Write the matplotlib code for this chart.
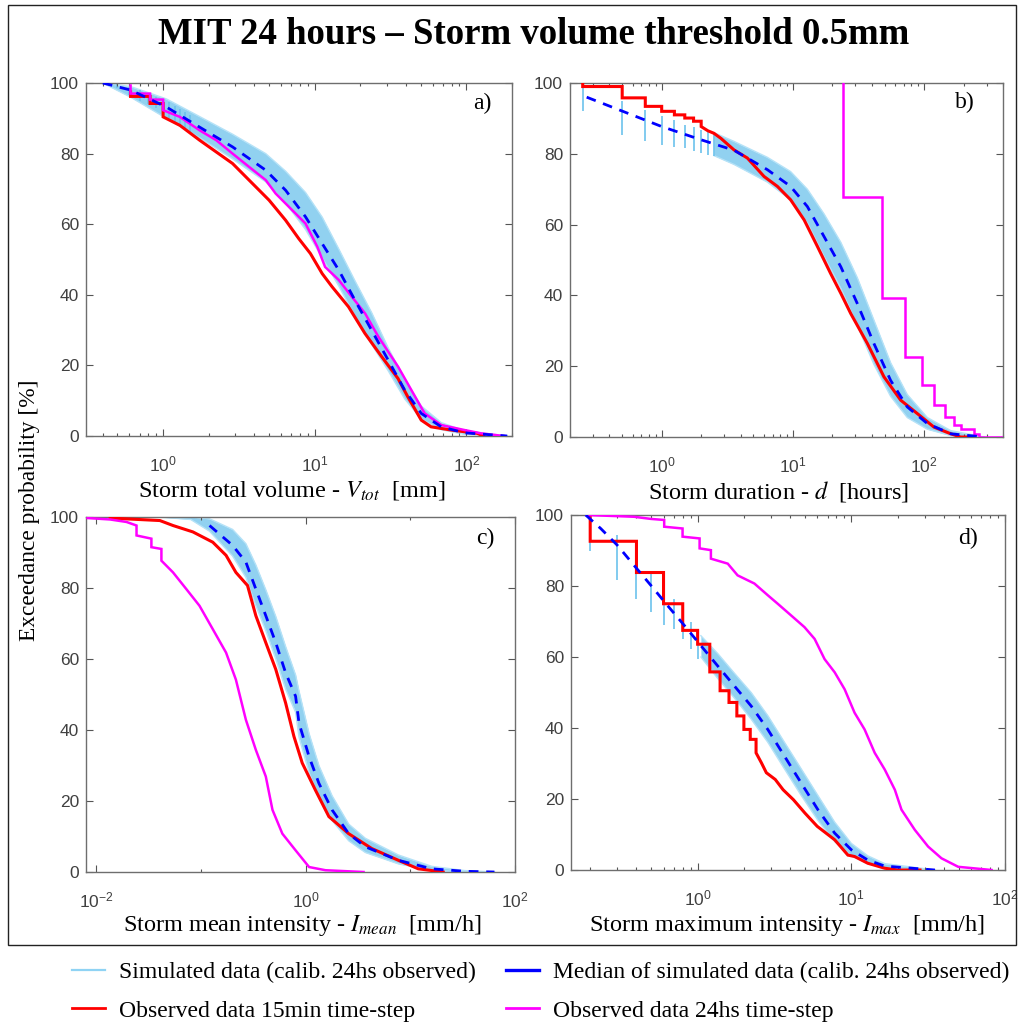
import numpy as np
import matplotlib
matplotlib.use('Agg')
import matplotlib.pyplot as plt
from matplotlib.lines import Line2D
from matplotlib.patches import Rectangle
from matplotlib.ticker import FixedLocator, FuncFormatter, NullFormatter

plt.rcParams['font.family'] = ['Liberation Sans', 'DejaVu Sans']
plt.rcParams['mathtext.fontset'] = 'stix'
SERIF = ['Liberation Serif', 'DejaVu Serif']

# ---------------- data: panel a (storm total volume, mm) ----------------
a_red_x = [0.61, 0.61, 0.82, 0.82, 1.0, 1.0, 1.29, 1.74, 2.87, 3.89, 5.0, 6.43, 7.85, 9.36, 11.2, 13.0,
           16.7, 21.4, 27.6, 35.4, 41.1, 50.4, 58.5, 79, 118, 130]
a_red_y = [97.5, 96.2, 96.2, 94.2, 94.2, 90.4, 88, 83.8, 77.2, 71.5, 66.8, 61.1, 55.9, 51.7, 46, 42.3,
           36.6, 29.1, 22.5, 16.3, 11.1, 4.5, 2.6, 1.7, 0.75, 0]
a_mag_x = [0.61, 0.61, 0.82, 0.82, 1.0, 1.0, 1.29, 1.74, 2.24, 2.87, 3.70, 4.75, 5.52, 6.76, 8.69, 10.4,
           11.7, 14.4, 17.6, 21.5, 26.3, 35.5, 43.4, 53.1, 68.3, 97, 125, 177]
a_mag_y = [99.3, 97, 97, 95.3, 95.3, 92.3, 90.4, 86.6, 83.8, 80, 76.2, 72.5, 68.7, 64.9, 60.2, 53.6,
           47.9, 44.2, 39.4, 34.7, 28.1, 19.6, 13, 6.4, 3.1, 1.7, 0.75, 0]
a_med_x = [0.40, 0.61, 1.05, 1.74, 2.87, 4.75, 6.43, 8.69, 11.2, 14.4, 18.4, 23.7, 30.5, 39.2, 50.4, 68.3, 97, 186]
a_med_y = [100, 98, 93.2, 87.5, 81.9, 75.3, 69.6, 62.1, 54.5, 47, 38.5, 30, 21.5, 13, 6.4, 2.6, 0.9, 0]
a_band_x = [0.40, 0.61, 1.05, 1.74, 2.87, 4.75, 6.43, 8.69, 11.2, 14.4, 18.4, 23.7, 30.5, 39.2, 50.4, 68.3, 97, 186]
a_band_hi = [100, 99, 95.5, 90.5, 85.5, 80, 75, 69, 62, 53, 44, 35, 25, 16, 8.5, 3.8, 1.5, 0]
a_band_lo = [100, 96, 90, 84.5, 78.5, 72, 66, 58.5, 50.5, 42.5, 34, 26, 18.5, 10.5, 4.8, 1.8, 0.5, 0]
a_spk_x = [0.5, 0.6, 0.7, 0.8, 0.9, 1.0, 1.1, 1.2, 1.3, 1.4, 1.5]
a_spk_hi = [99.8, 99, 98, 97, 96, 95.5, 94.5, 93.5, 92.5, 91.7, 91]
a_spk_lo = [98.5, 96.5, 95, 94, 93, 91, 90, 89, 88, 87, 86]

# ---------------- data: panel b (storm duration, hours) ----------------
b_red_x = [0.25, 0.25, 0.5, 0.5, 0.75, 0.75, 1.0, 1.0, 1.25, 1.25, 1.5, 1.5, 1.75, 1.75, 2.0, 2.0,
           2.25, 2.5, 2.82, 3.56, 4.5, 6.03, 7.62, 9.62, 12.2, 15.4, 19.4, 23.2, 27.6, 37.0, 49.5,
           66.4, 89, 119, 160, 190, 240]
b_red_y = [100, 99, 99, 95.8, 95.8, 93.4, 93.4, 92, 92, 91, 91, 90.1, 90.1, 89.2, 89.2, 87.7,
           86.5, 85.8, 84.4, 81.1, 78.8, 73.6, 70.8, 67, 61.3, 53.8, 46.2, 40.6, 34.9, 26.4, 17,
           10.4, 6.6, 2.8, 0.9, 0, 0]
b_mag_x = [24, 24, 48, 48, 72, 72, 96, 96, 120, 120, 144, 144, 168, 168, 192, 192, 240, 240, 264, 264, 390]
b_mag_y = [100, 67.9, 67.9, 39.2, 39.2, 22.6, 22.6, 14.6, 14.6, 9.0, 9.0, 5.7, 5.7, 3.3, 3.3, 2.4,
           2.4, 0.9, 0.9, 0.1, 0.1]
b_med_x = [0.268, 1.0, 1.98, 3.56, 6.4, 9.6, 12.9, 17.3, 23.2, 31, 41.5, 55.6, 74.5, 106, 160, 287]
b_med_y = [96, 87.7, 84, 81, 75.5, 70.8, 65.1, 56.6, 48.1, 37.7, 26.4, 16, 8.5, 3.8, 0.9, 0]
b_band_x = [2.5, 3.56, 6.4, 9.6, 12.9, 17.3, 23.2, 31, 41.5, 55.6, 74.5, 106, 160, 287]
b_band_hi = [86, 83.5, 79, 75, 70, 63, 55, 45, 33, 21, 12, 5.5, 1.8, 0]
b_band_lo = [79.5, 77, 72, 67, 60.5, 51, 42, 31.5, 20.5, 11.5, 5.5, 2.2, 0.4, 0]
b_spk_x = [0.25, 0.5, 0.75, 1.0, 1.25, 1.5, 1.75, 2.0, 2.25, 2.5]
b_spk_hi = [99, 95, 92.5, 90.6, 89.6, 88.2, 87.7, 86.8, 86.2, 85.8]
b_spk_lo = [92, 85.4, 83.5, 82.5, 82, 81.5, 80.8, 80.3, 79.8, 79.5]

# ---------------- data: panel c (storm mean intensity, mm/h) ----------------
c_red_x = [0.0136, 0.0406, 0.0542, 0.0839, 0.130, 0.174, 0.216, 0.279, 0.335, 0.417, 0.519, 0.645,
           0.774, 0.929, 1.24, 1.67, 2.58, 4.29, 7.69, 11.9, 20.6]
c_red_y = [99.7, 99, 97.6, 95.8, 92.9, 89.2, 84.4, 80.7, 72.2, 64.6, 57.1, 47.6,
           38.2, 30.7, 23.1, 15.6, 10.8, 6.6, 3.3, 0.9, 0]
c_mag_x = [0.00828, 0.0136, 0.0195, 0.0243, 0.0243, 0.0337, 0.0337, 0.0420, 0.0420, 0.0542, 0.0726,
           0.0970, 0.130, 0.174, 0.216, 0.269, 0.335, 0.417, 0.483, 0.600, 0.803, 1.08, 1.55, 3.58]
c_mag_y = [99.7, 99.3, 98.6, 97.6, 94.8, 93.9, 91.5, 91, 87.7, 84.4, 79.7,
           75, 68.4, 61.8, 54.2, 42.9, 34.4, 26.9, 17.5, 10.8, 6.1, 1.4, 0.5, 0]
c_med_x = [0.121, 0.201, 0.269, 0.335, 0.417, 0.519, 0.645, 0.803, 0.865, 1.08, 1.34, 1.79, 2.58,
           3.72, 7.69, 16.0, 33.0, 63.6]
c_med_y = [97.6, 92, 87.3, 79.7, 72.2, 64.6, 56.1, 49.5, 42, 32.5, 25, 17.5, 10.8, 7.1, 3.3, 0.9, 0.2, 0]
c_band_x = [0.04, 0.08, 0.121, 0.201, 0.269, 0.335, 0.417, 0.519, 0.645, 0.803, 0.865, 1.08, 1.34,
            1.79, 2.58, 3.72, 7.69, 16.0, 33.0, 63.6]
c_band_hi = [100, 100, 99.5, 96.5, 92.5, 86.5, 79.5, 72, 63.5, 55.5, 51, 39, 30, 21.5, 13.5, 9.5, 4.8, 1.6, 0.4, 0]
c_band_lo = [100, 99.3, 96, 89, 83, 75, 68, 60, 51.5, 45, 38, 28, 21, 14.5, 8.8, 5.5, 2.3, 0.5, 0, 0]

# ---------------- data: panel d (storm maximum intensity, mm/h) ----------------
d_red_x = [0.2, 0.2, 0.4, 0.4, 0.6, 0.6, 0.8, 0.8, 1.0, 1.0, 1.2, 1.2, 1.4, 1.4, 1.6, 1.6, 1.8, 1.8,
           2.0, 2.0, 2.2, 2.2, 2.4, 2.4, 2.6, 2.8, 3.2, 3.6, 4.2, 5.0, 6.0, 7.8, 9.5, 10.5, 12.8,
           16.5, 20, 28]
d_red_y = [100, 92.6, 92.6, 83.8, 83.8, 75, 75, 67.5, 67.5, 63.6, 63.6, 55.8, 55.8, 50.5, 50.5, 47.2,
           47.2, 43.4, 43.4, 39.6, 39.6, 36.8, 36.8, 33, 30.2, 27.4, 25.5, 22.6, 19.8, 16, 12.3, 8.5,
           4.2, 3.8, 1.9, 0.5, 0, 0]
d_mag_x = [0.19, 0.386, 0.496, 0.606, 0.606, 0.798, 0.798, 1.03, 1.03, 1.22, 1.22, 1.57, 1.82, 2.34,
           2.86, 3.32, 4.06, 4.96, 5.77, 6.70, 7.79, 9.05, 10.5, 12.2, 14.2, 16.5, 19.2, 21.2, 25.9,
           31.6, 38.6, 49.6, 81.8]
d_mag_y = [100, 99.5, 98.9, 98.6, 96.7, 96.2, 93.9, 93.4, 90.6, 90.1, 87.7, 86.3, 83, 80.7,
           77.4, 75, 71.7, 68.4, 65.1, 59.4, 55.7, 50.9, 44.3, 39.6, 33, 28.3, 22.6, 17, 11.3,
           6.6, 3.3, 0.9, 0]
d_med_x = [0.187, 0.234, 0.30, 0.386, 0.496, 0.637, 0.819, 1.05, 1.35, 1.73, 2.23, 2.86, 3.67, 4.72,
           6.06, 7.79, 10.0, 12.8, 16.5, 35]
d_med_y = [100, 96.2, 91.5, 85.8, 80.2, 74.5, 68.9, 63.2, 57.5, 51.9, 46.2, 39.6, 32.1, 24.5,
           17, 10.4, 5.7, 2.8, 1.1, 0]
d_band_x = [1.05, 1.35, 1.73, 2.23, 2.86, 3.67, 4.72, 6.06, 7.79, 10.0, 12.8, 16.5, 35]
d_band_hi = [66, 61, 55.5, 50, 43.5, 36, 28.5, 21, 13.5, 7.5, 4, 1.8, 0]
d_band_lo = [60, 54, 48.5, 42.5, 36, 28.5, 21, 14, 8, 4, 1.8, 0.5, 0]
d_spk_x = [0.2, 0.3, 0.4, 0.5, 0.6, 0.7, 0.8, 0.9, 1.0]
d_spk_hi = [92.5, 94.3, 85.8, 84, 79.2, 76.4, 71.7, 69.8, 67]
d_spk_lo = [90, 81.6, 76.4, 72.6, 68.9, 67.9, 65.1, 62.3, 59.4]

y_ticks = [0, 20, 40, 60, 80, 100]
title = 'MIT 24 hours \u2013 Storm volume threshold 0.5mm'
xlabels = ['Storm total volume - $V_{tot}$  [mm]', 'Storm duration - $d$  [hours]',
           'Storm mean intensity - $I_{mean}$  [mm/h]', 'Storm maximum intensity - $I_{max}$  [mm/h]']
panel_tags = ['a)', 'b)', 'c)', 'd)']
legend_labels = ['Simulated data (calib. 24hs observed)', 'Observed data 15min time-step',
                 'Median of simulated data (calib. 24hs observed)', 'Observed data 24hs time-step']

SIM_C = '#6cc2ec'
SIM_EDGE = '#b5e2f7'
MED_C = '#0000ff'
RED_C = '#ff0000'
MAG_C = '#ff00ff'

W, H = 1021, 1030
fig = plt.figure(figsize=(W / 100, H / 100), dpi=100)


def px_axes(l, r, t, b):
    return fig.add_axes([l / W, 1 - b / H, (r - l) / W, (b - t) / H])


panels = [
    dict(box=(86, 512, 83, 436), xlim=(0.31, 200), major=[1, 10, 100], minor_dec=None,
         red=(a_red_x, a_red_y), mag=(a_mag_x, a_mag_y), med=(a_med_x, a_med_y),
         band=(a_band_x, a_band_lo, a_band_hi), spk=(a_spk_x, a_spk_lo, a_spk_hi),
         tag=(0.93, 0.943), xl=(292, 491)),
    dict(box=(570, 1003, 83, 437), xlim=(0.2, 400), major=[1, 10, 100], minor_dec=None,
         red=(b_red_x, b_red_y), mag=(b_mag_x, b_mag_y), med=(b_med_x, b_med_y),
         band=(b_band_x, b_band_lo, b_band_hi), spk=(b_spk_x, b_spk_lo, b_spk_hi),
         tag=(0.912, 0.946), xl=(778, 491)),
    dict(box=(86, 515, 517, 872), xlim=(0.008, 100), major=[0.01, 1, 100], minor_dec=[0.1, 10],
         red=(c_red_x, c_red_y), mag=(c_mag_x, c_mag_y), med=(c_med_x, c_med_y),
         band=(c_band_x, c_band_lo, c_band_hi), spk=None,
         tag=(0.93, 0.94), xl=(302, 925)),
    dict(box=(571, 1005, 515, 870), xlim=(0.15, 100), major=[1, 10, 100], minor_dec=None,
         red=(d_red_x, d_red_y), mag=(d_mag_x, d_mag_y), med=(d_med_x, d_med_y),
         band=(d_band_x, d_band_lo, d_band_hi), spk=(d_spk_x, d_spk_lo, d_spk_hi),
         tag=(0.915, 0.935), xl=(787, 925)),
]

fmt = FuncFormatter(lambda v, p: r'$\mathregular{10^{%d}}$' % int(round(np.log10(v))))

for i, P in enumerate(panels):
    ax = px_axes(*P['box'])
    ax.set_xscale('log')
    bx, blo, bhi = P['band']
    ax.fill_between(bx, blo, bhi, color=SIM_C, alpha=0.75, lw=0, zorder=1)
    ax.plot(bx, blo, color=SIM_EDGE, lw=1.0, zorder=1)
    ax.plot(bx, bhi, color=SIM_EDGE, lw=1.0, zorder=1)
    if P['spk'] is not None:
        sx, slo, shi = P['spk']
        ax.vlines(sx, slo, shi, colors=SIM_C, lw=1.2, zorder=1)
    ax.plot(*P['red'], color=RED_C, lw=2.2, zorder=3, solid_joinstyle='miter')
    ax.plot(*P['mag'], color=MAG_C, lw=1.8, zorder=3, solid_joinstyle='miter')
    ax.plot(*P['med'], color=MED_C, lw=2.0, ls=(0, (3.5, 2.8)), zorder=4)

    ax.set_xlim(*P['xlim'])
    ax.set_ylim(0, 100)
    ax.set_yticks(y_ticks)
    ax.set_yticklabels([str(v) for v in y_ticks])
    ax.xaxis.set_major_locator(FixedLocator(P['major']))
    ax.xaxis.set_major_formatter(fmt)
    if P['minor_dec'] is not None:
        ax.xaxis.set_minor_locator(FixedLocator(P['minor_dec']))
    ax.xaxis.set_minor_formatter(NullFormatter())
    ax.tick_params(which='both', direction='in', top=True, right=True, color='#555555',
                   labelcolor='#404040', labelsize=12.5, width=0.8)
    ax.tick_params(which='major', length=5)
    ax.tick_params(which='minor', length=2.5)
    ax.tick_params(axis='x', pad=13)
    ax.tick_params(axis='y', pad=5)
    for s in ax.spines.values():
        s.set_color('#6e6e6e')
        s.set_linewidth(1.0)
    ax.text(P['tag'][0], P['tag'][1], panel_tags[i], transform=ax.transAxes, ha='center',
            va='center', fontsize=17, family=SERIF)
    fig.text(P['xl'][0] / W, 1 - P['xl'][1] / H, xlabels[i], ha='center', va='center',
             fontsize=17.5, family=SERIF)

fig.text(534 / W, 1 - 35 / H, title, ha='center', va='center', fontsize=26.5,
         fontweight='bold', family=SERIF)
fig.text(30 / W, 1 - 510 / H, 'Exceedance probability [%]', rotation=90, ha='center',
         va='center', fontsize=16.8, family=SERIF)

fig.patches.append(Rectangle((8 / W, 1 - 945 / H), 1008 / W, 940 / H, transform=fig.transFigure,
                             fill=False, edgecolor='#222222', lw=1.0))

handles = [Line2D([], [], color='#8fd3f4', lw=1.6),
           Line2D([], [], color=RED_C, lw=2.0),
           Line2D([], [], color=MED_C, lw=2.4),
           Line2D([], [], color=MAG_C, lw=2.0)]
fig.legend(handles, legend_labels, loc='upper left', bbox_to_anchor=(72 / W, 1 - 962 / H),
           ncol=2, frameon=False, prop={'family': SERIF, 'size': 17}, handlelength=1.4,
           handletextpad=0.6, columnspacing=1.25, labelspacing=0.7, borderpad=0, borderaxespad=0)

fig.savefig('out.png', dpi=100)
